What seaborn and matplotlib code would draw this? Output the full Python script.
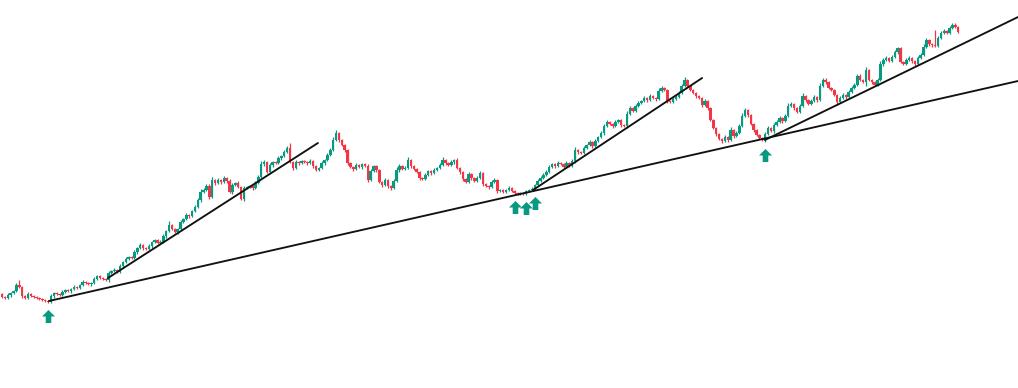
import numpy as np
import pandas as pd
import matplotlib
matplotlib.use("Agg")
import matplotlib.pyplot as plt
from matplotlib.path import Path
import seaborn as sns

# ---------------- data ----------------
first_open = 106
close = [
    103, 102, 105, 107, 109, 115, 113, 104, 102, 106,
    104, 103, 102, 101, 100, 99, 98, 104, 107, 106,
    105, 108, 110, 109, 111, 113, 112, 115, 118, 117,
    116, 117, 121, 124, 122, 121, 120, 127, 129, 130,
    128, 134, 138, 141, 143, 142, 148, 152, 155, 152,
    151, 154, 158, 160, 157, 158, 164, 169, 175, 171,
    168, 171, 178, 181, 185, 184, 189, 193, 200, 208,
    210, 214, 203, 220, 217, 220, 218, 222, 219, 208,
    215, 217, 213, 201, 212, 213, 214, 212, 217, 223,
    236, 238, 228, 235, 238, 237, 242, 244, 248, 252,
    238, 232, 238, 237, 239, 238, 237, 239, 234, 230,
    232, 237, 240, 245, 250, 260, 267, 260, 255, 250,
    237, 233, 231, 235, 233, 236, 234, 220, 229, 234,
    230, 218, 215, 220, 214, 212, 219, 230, 234, 231,
    232, 240, 234, 231, 228, 222, 221, 225, 229, 227,
    230, 232, 235, 240, 237, 235, 238, 240, 232, 228,
    221, 218, 226, 222, 219, 222, 227, 216, 214, 213,
    218, 220, 209, 210, 208, 210, 212, 209, 207, 206,
    207, 206, 209, 210, 211, 215, 219, 222, 225, 228,
    233, 236, 234, 237, 236, 233, 237, 234, 239, 250,
    248, 247, 252, 255, 258, 254, 259, 263, 267, 274,
    278, 276, 274, 278, 280, 275, 274, 286, 292, 289,
    294, 297, 299, 302, 300, 304, 302, 301, 309, 312,
    310, 299, 298, 301, 303, 307, 314, 320, 314, 310,
    307, 304, 302, 295, 299, 292, 280, 272, 266, 261,
    259, 263, 260, 270, 264, 267, 274, 284, 290, 285,
    276, 270, 265, 262, 260, 266, 272, 269, 275, 278,
    282, 279, 284, 294, 296, 292, 288, 294, 304, 300,
    296, 299, 303, 300, 314, 320, 318, 312, 310, 305,
    298, 302, 305, 303, 308, 312, 315, 324, 320, 318,
    330, 320, 318, 315, 320, 336, 340, 342, 339, 343,
    348, 352, 338, 336, 340, 342, 339, 336, 342, 345,
    353, 360, 356, 355, 354, 362, 367, 369, 367, 372,
    375, 373, 368,
]
upper_wick = [
    1, 1, 2, 1, 1, 2, 5, 1, 1, 2,
    1, 1, 1, 1, 1, 1, 1, 2, 1, 1,
    1, 2, 1, 1, 1, 2, 1, 1, 2, 1,
    1, 1, 2, 1, 1, 1, 1, 2, 1, 2,
    1, 2, 1, 2, 1, 1, 2, 1, 2, 1,
    1, 2, 1, 1, 1, 2, 2, 1, 4, 1,
    1, 1, 2, 1, 2, 1, 1, 2, 2, 3,
    2, 2, 2, 3, 1, 2, 1, 2, 1, 2,
    2, 1, 2, 1, 2, 1, 1, 1, 2, 2,
    3, 2, 1, 2, 1, 1, 2, 1, 2, 2,
    5, 1, 2, 1, 1, 1, 1, 2, 1, 1,
    1, 2, 1, 2, 2, 3, 3, 1, 1, 1,
    1, 1, 1, 2, 1, 1, 1, 2, 2, 1,
    1, 1, 1, 2, 1, 1, 2, 3, 2, 1,
    2, 3, 1, 1, 1, 1, 1, 2, 1, 1,
    2, 1, 2, 3, 1, 1, 2, 1, 2, 1,
    1, 1, 2, 1, 1, 2, 2, 1, 1, 1,
    2, 2, 1, 1, 1, 1, 2, 1, 1, 1,
    1, 1, 1, 1, 2, 1, 2, 2, 2, 2,
    2, 1, 1, 2, 1, 1, 2, 1, 2, 3,
    1, 1, 2, 1, 2, 1, 2, 1, 2, 2,
    2, 1, 1, 2, 1, 1, 1, 3, 2, 1,
    2, 2, 1, 2, 1, 2, 1, 1, 3, 2,
    1, 1, 1, 2, 2, 2, 2, 3, 1, 1,
    1, 1, 1, 1, 2, 1, 1, 1, 1, 1,
    1, 2, 1, 3, 1, 2, 2, 3, 2, 1,
    1, 1, 1, 1, 1, 2, 2, 1, 2, 2,
    2, 1, 2, 3, 2, 1, 1, 2, 3, 1,
    1, 2, 2, 1, 3, 2, 2, 1, 1, 1,
    1, 2, 2, 1, 2, 2, 2, 2, 2, 1,
    3, 1, 1, 1, 2, 3, 2, 2, 1, 2,
    2, 1, 1, 1, 2, 2, 1, 1, 2, 2,
    3, 2, 1, 1, 15, 2, 2, 2, 1, 2,
    2, 2, 1,
]
lower_wick = [
    1, 1, 1, 2, 1, 1, 1, 2, 1, 1,
    1, 1, 1, 1, 1, 1, 1, 1, 2, 1,
    1, 1, 1, 1, 2, 1, 1, 1, 1, 1,
    1, 2, 1, 1, 1, 1, 1, 2, 1, 1,
    1, 1, 2, 1, 1, 1, 1, 2, 1, 2,
    1, 1, 2, 1, 1, 1, 1, 2, 1, 1,
    1, 2, 1, 1, 1, 2, 1, 1, 1, 2,
    1, 1, 2, 1, 2, 1, 2, 1, 2, 1,
    2, 1, 1, 1, 2, 1, 1, 2, 1, 1,
    1, 2, 1, 1, 2, 1, 1, 2, 1, 1,
    1, 2, 1, 2, 1, 1, 2, 1, 2, 1,
    1, 1, 2, 1, 1, 1, 1, 2, 1, 2,
    2, 1, 2, 1, 1, 2, 1, 2, 1, 1,
    2, 1, 2, 1, 2, 2, 1, 1, 2, 1,
    1, 1, 2, 1, 1, 2, 1, 1, 1, 2,
    1, 1, 1, 1, 2, 1, 1, 2, 1, 2,
    2, 1, 1, 2, 1, 1, 1, 2, 1, 2,
    1, 1, 2, 1, 1, 1, 1, 1, 1, 1,
    1, 1, 1, 1, 1, 1, 1, 1, 1, 1,
    1, 1, 2, 1, 1, 2, 1, 1, 1, 2,
    2, 1, 1, 1, 1, 2, 1, 1, 1, 2,
    1, 1, 2, 1, 1, 2, 1, 2, 1, 1,
    1, 1, 1, 1, 2, 1, 1, 2, 1, 1,
    1, 2, 1, 1, 1, 1, 1, 1, 2, 1,
    1, 2, 1, 2, 1, 2, 1, 1, 2, 1,
    2, 1, 2, 1, 2, 1, 1, 1, 1, 2,
    1, 2, 1, 1, 1, 2, 1, 1, 2, 1,
    1, 2, 1, 1, 1, 2, 1, 1, 1, 2,
    1, 1, 1, 2, 1, 1, 2, 1, 1, 1,
    3, 1, 1, 2, 1, 1, 1, 1, 1, 1,
    4, 1, 2, 1, 1, 1, 2, 1, 1, 1,
    1, 2, 1, 1, 1, 1, 2, 2, 1, 1,
    1, 1, 2, 2, 1, 1, 1, 1, 1, 1,
    1, 1, 1,
]

# trend lines: (start index, start price, end index, end price)
trend_x0 = [16.3, 36.8, 184.4, 264.9]
trend_y0 = [99, 122, 210, 260]
trend_x1 = [352.8, 109.7, 243.1, 352.8]
trend_y1 = [319, 257, 322, 383]

# buy-signal arrows (candle indices)
signal_idx = [16, 178, 182, 185, 265]

# ---------------- build frame ----------------
close = np.array(close, dtype=float)
opens = np.concatenate([[first_open], close[:-1]])
high = np.maximum(opens, close) + np.array(upper_wick)
low = np.minimum(opens, close) - np.array(lower_wick)
idx = np.arange(len(close))
df = pd.DataFrame({"i": idx, "open": opens, "close": close, "high": high, "low": low})

UP = "#089981"
DOWN = "#F23645"
df["color"] = np.where(df["close"] >= df["open"], UP, DOWN)

sns.set_theme(style="white")
fig = plt.figure(figsize=(10.18, 3.88), dpi=100)
ax = fig.add_axes([0, 0, 1, 1])
ax.set_facecolor("white")

# wicks
ax.vlines(df["i"], df["low"], df["high"], colors=df["color"], linewidth=0.9, zorder=2)
# bodies
body_h = np.maximum((df["close"] - df["open"]).abs(), 1.2)
body_b = np.minimum(df["open"], df["close"])
ax.bar(df["i"], body_h, bottom=body_b, width=0.85, color=df["color"], linewidth=0, zorder=3)

# trend lines
for k in range(len(trend_x0)):
    tl = pd.DataFrame({"x": [trend_x0[k], trend_x1[k]], "y": [trend_y0[k], trend_y1[k]]})
    sns.lineplot(data=tl, x="x", y="y", ax=ax, color="#111111", linewidth=1.35,
                 zorder=4, estimator=None, sort=False)

# arrows
arrow = Path([(-3, -7), (3, -7), (3, 0), (7, 0), (0, 7), (-7, 0), (-3, 0), (-3, -7)],
             [Path.MOVETO] + [Path.LINETO] * 6 + [Path.CLOSEPOLY])
sig = df.loc[signal_idx, ["i", "low"]].copy()
sig["y"] = sig["low"] - 13
sns.scatterplot(data=sig, x="i", y="y", ax=ax, marker=arrow, s=88, color=UP,
                linewidth=0, zorder=5)

ax.set_xlim(-2 / 2.88, (1018 - 2) / 2.88)
ax.set_ylim(12, 400)
ax.set_axis_off()
fig.savefig("out.png", dpi=100, facecolor="white")
